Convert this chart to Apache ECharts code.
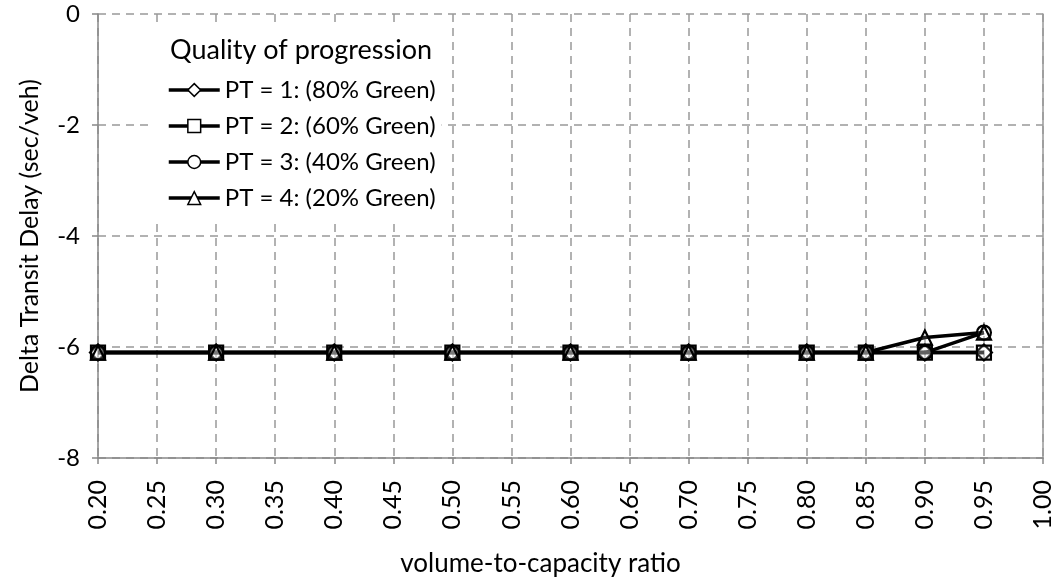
<!DOCTYPE html>
<html>
<head>
<meta charset="utf-8">
<script src="https://cdn.jsdelivr.net/npm/echarts@6/dist/echarts.min.js"></script>
<style>html,body{margin:0;padding:0;background:#fff;}#c{width:1058px;height:582px;}</style>
</head>
<body>
<div id="c"></div>
<script>
var xValues = [0.20, 0.30, 0.40, 0.50, 0.60, 0.70, 0.80, 0.85, 0.90, 0.95];
var seriesNames = ['PT = 1: (80% Green)', 'PT = 2: (60% Green)', 'PT = 3: (40% Green)', 'PT = 4: (20% Green)'];
var pt1 = [-6.1, -6.1, -6.1, -6.1, -6.1, -6.1, -6.1, -6.1, -6.1, -6.1];
var pt2 = [-6.1, -6.1, -6.1, -6.1, -6.1, -6.1, -6.1, -6.1, -6.1, -6.1];
var pt3 = [-6.1, -6.1, -6.1, -6.1, -6.1, -6.1, -6.1, -6.1, -6.1, -5.74];
var pt4 = [-6.1, -6.1, -6.1, -6.1, -6.1, -6.1, -6.1, -6.1, -5.83, -5.74];
var symbols = ['diamond', 'rect', 'circle', 'triangle'];
var allSeries = [pt1, pt2, pt3, pt4];

var FONT = 'Lato';
var chart = echarts.init(document.getElementById('c'), null, {renderer: 'canvas'});

function pairs(vals) {
  return xValues.map(function (x, i) { return [x, vals[i]]; });
}

var series = allSeries.map(function (vals, k) {
  return {
    name: seriesNames[k],
    type: 'line',
    data: pairs(vals),
    symbol: symbols[k],
    symbolSize: k === 0 ? 16 : 14,
    lineStyle: {color: '#000', width: 3.5},
    itemStyle: {color: 'rgba(255,255,255,0.15)', borderColor: '#000', borderWidth: 2.2},
    emphasis: {disabled: true},
    animation: false
  };
});

chart.setOption({
  animation: false,
  backgroundColor: '#fff',
  textStyle: {fontFamily: FONT},
  grid: {left: 98, right: 15, top: 14, bottom: 124, containLabel: false},
  title: {
    text: 'Quality of progression',
    left: 170, top: 37,
    padding: 0,
    textStyle: {fontFamily: FONT, fontSize: 27, fontWeight: 'normal', color: '#000'}
  },
  legend: {
    data: seriesNames,
    orient: 'vertical',
    left: 153, top: 28,
    padding: [49, 6, 8, 14],
    backgroundColor: '#fff',
    itemWidth: 51, itemHeight: 16,
    itemGap: 10,
    selectedMode: false,
    itemStyle: {color: '#fff', borderColor: '#000', borderWidth: 1.5},
    lineStyle: {color: '#000', width: 3.5},
    textStyle: {fontFamily: FONT, fontSize: 24, color: '#000', lineHeight: 26}
  },
  xAxis: {
    type: 'value',
    min: 0.2, max: 1.0, interval: 0.05,
    axisLine: {show: true, onZero: false, lineStyle: {color: '#888', width: 1.5}},
    axisTick: {show: true, length: 6, lineStyle: {color: '#888', width: 1.5}},
    axisLabel: {rotate: 90, margin: 22, fontSize: 25, color: '#000', fontFamily: FONT,
      formatter: function (v) { return v.toFixed(2); }},
    splitLine: {show: true, lineStyle: {color: '#999', type: [8, 6], width: 1.5}},
    name: 'volume-to-capacity ratio',
    nameLocation: 'middle', nameGap: 93,
    nameTextStyle: {fontSize: 26, color: '#000', fontFamily: FONT, padding: [0, 60, 0, 0]}
  },
  yAxis: [{
    type: 'value',
    min: -8, max: 0, interval: 2,
    axisLine: {show: true, onZero: false, lineStyle: {color: '#888', width: 1.5}},
    axisTick: {show: true, length: 6, lineStyle: {color: '#888', width: 1.5}},
    axisLabel: {margin: 18, fontSize: 24, color: '#000', fontFamily: FONT},
    splitLine: {show: true, lineStyle: {color: '#999', type: [8, 6], width: 1.5}},
    name: 'Delta Transit Delay (sec/veh)',
    nameLocation: 'middle', nameGap: 56,
    nameTextStyle: {fontSize: 25, color: '#000', fontFamily: FONT}
  }, {
    type: 'value', position: 'right',
    min: -8, max: 0, interval: 2,
    axisLine: {show: true, onZero: false, lineStyle: {color: '#999', width: 1.5}},
    axisTick: {show: false}, axisLabel: {show: false}, splitLine: {show: false}
  }],
  series: series
});
</script>
</body>
</html>
